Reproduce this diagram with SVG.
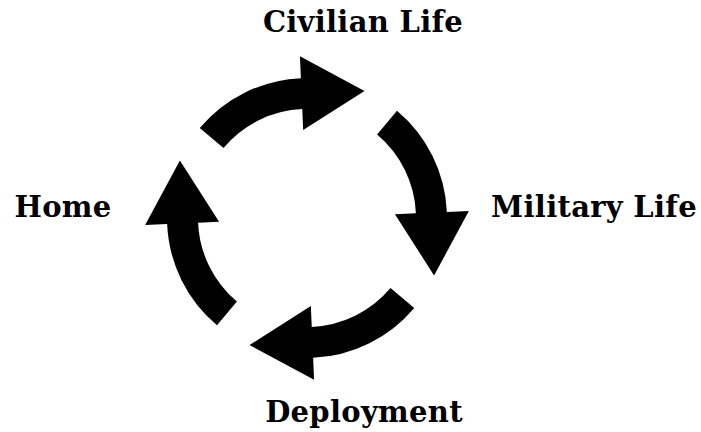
<svg xmlns="http://www.w3.org/2000/svg" width="701" height="432" viewBox="0 0 701 432">
<style>
.lbl{font-family:"DejaVu Serif","Liberation Serif",serif;font-weight:bold;font-size:29px;letter-spacing:0.3px;fill:#000;text-anchor:middle}
.arr{fill:#000}
</style>
<defs>
<path id="arrow" d="M199.75,128.0 A140,140 0 0 1 300.89,78.13 L299.93,56.15 L364.5,90.9 L303.16,130.08 L302.25,109.1 A109,109 0 0 0 223.5,147.9 Z"/>
</defs>
<rect width="701" height="432" fill="#fff"/>
<g id="connectors">
<use href="#arrow" class="arr"/>
<use href="#arrow" class="arr" transform="rotate(90 307 218)"/>
<use href="#arrow" class="arr" transform="rotate(180 307 218)"/>
<use href="#arrow" class="arr" transform="rotate(270 307 218)"/>
</g>
<g id="civilian"><text class="lbl" x="363" y="32">Civilian Life</text></g>
<g id="military"><text class="lbl" x="594" y="217">Military Life</text></g>
<g id="deployment"><text class="lbl" x="364" y="422">Deployment</text></g>
<g id="home"><text class="lbl" x="63" y="217">Home</text></g>
</svg>
